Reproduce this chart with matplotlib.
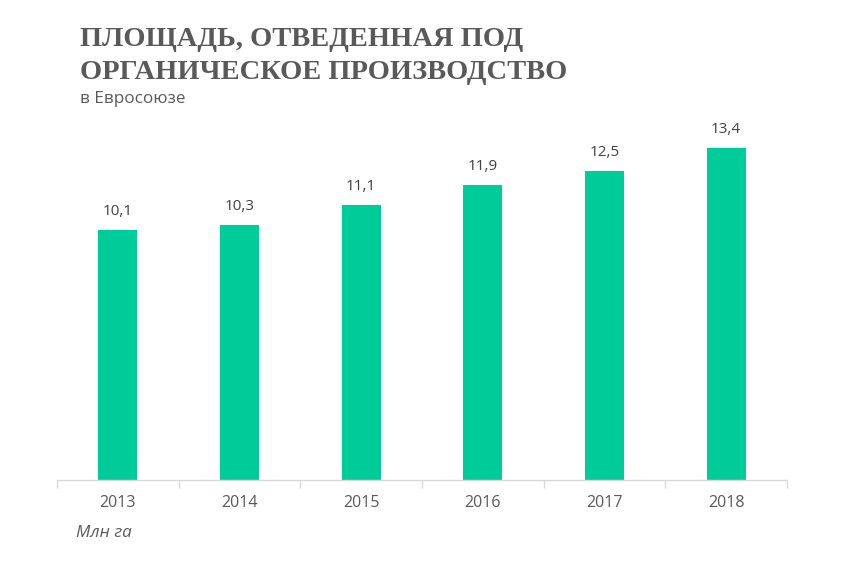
import matplotlib
matplotlib.use("Agg")
import matplotlib.pyplot as plt

years = ['2013', '2014', '2015', '2016', '2017', '2018']
area = [10.1, 10.3, 11.1, 11.9, 12.5, 13.4]
value_labels = ['10,1', '10,3', '11,1', '11,9', '12,5', '13,4']

W, H = 867, 568
fig = plt.figure(figsize=(W / 100, H / 100), dpi=100)
ax = fig.add_axes([57 / W, (H - 480) / H, (787 - 57) / W, 360 / H])

green = '#00CC99'
grey = '#595959'

x = list(range(len(years)))
ax.bar(x, area, width=0.32, color=green, zorder=2)
ax.set_xlim(-0.5, len(years) - 0.5)
ax.set_ylim(0, 360 / 24.75)

for xi, v, lab in zip(x, area, value_labels):
    ax.annotate(lab, (xi, v), xytext=(0, 8), textcoords='offset points',
                ha='center', va='bottom', fontsize=11, color='#404040',
                family='Open Sans')

for s in ['top', 'right', 'left']:
    ax.spines[s].set_visible(False)
ax.spines['bottom'].set_color('#d9d9d9')
ax.spines['bottom'].set_linewidth(1.0)
ax.set_yticks([])
ax.set_xticks(x)
ax.set_xticklabels(years, fontsize=11.5, color=grey, family='Open Sans')
ax.tick_params(axis='x', length=0, pad=11)
ax.set_xticks([i - 0.5 for i in range(len(years) + 1)], minor=True)
ax.tick_params(axis='x', which='minor', length=6, color='#d9d9d9', width=1.0)

fig.text(80 / W, 1 - 40 / H, 'ПЛОЩАДЬ, ОТВЕДЕННАЯ ПОД', fontsize=20.5,
         fontweight='bold', family='Liberation Serif', color=grey, va='center')
fig.text(80 / W, 1 - 72 / H, 'ОРГАНИЧЕСКОЕ ПРОИЗВОДСТВО', fontsize=20.5,
         fontweight='bold', family='Liberation Serif', color=grey, va='center')
fig.text(80 / W, 1 - 99 / H, 'в Евросоюзе', fontsize=12.3,
         family='Open Sans', color=grey, va='center')
fig.text(76 / W, 1 - 533 / H, 'Млн га', fontsize=12.3, style='italic',
         family='Open Sans', color=grey, va='center')

fig.savefig('out.png', dpi=100)
